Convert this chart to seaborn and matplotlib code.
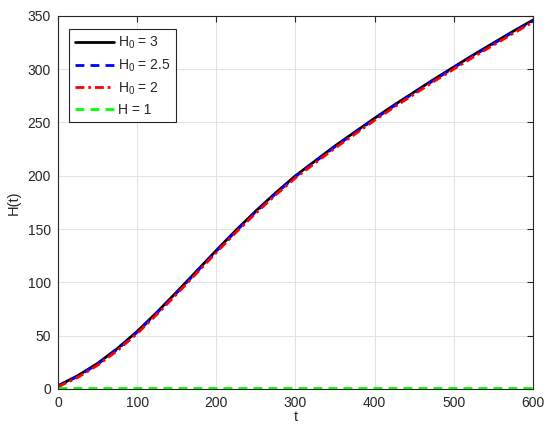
import matplotlib
matplotlib.use("Agg")
import matplotlib.pyplot as plt
import seaborn as sns
import pandas as pd

t = [0, 25, 50, 75, 100, 125, 150, 175, 200, 225, 250, 275, 300,
     325, 350, 375, 400, 425, 450, 475, 500, 525, 550, 575, 600]
h0_3 = [3.0, 12.5, 24, 38, 54, 72, 91, 110.5, 130, 149, 167, 184, 200,
        214, 228, 241, 254, 266.5, 278.5, 290.5, 302, 313.5, 324.5, 335.5, 346]
h0_25 = [2.5, 11.8, 23.2, 37.2, 53.2, 71.2, 90.2, 109.7, 129.2, 148.2, 166.2, 183.2, 199.2,
         213.2, 227.2, 240.2, 253.2, 265.7, 277.7, 289.7, 301.2, 312.7, 323.7, 334.7, 345.2]
h0_2 = [2.0, 10.9, 22.2, 36, 52, 70, 89, 108.5, 128, 147, 165, 182, 198,
        212, 226, 239, 252, 264.5, 276.5, 288.5, 300, 311.5, 322.5, 333.5, 344.2]
h_1 = [1] * 25

labels = [r"H$_0$ = 3", r"H$_0$ = 2.5", r"H$_0$ = 2", "H = 1"]
series = [h0_3, h0_25, h0_2, h_1]
colors = ["#000000", "#0000ff", "#ff0000", "#00ff00"]
dashes = [None, (3.2, 2.2), (3.2, 1.4, 1.0, 1.4), (3.2, 2.2)]

sns.set_style("whitegrid")
plt.rcParams["font.family"] = ["Liberation Sans", "DejaVu Sans"]
plt.rcParams["mathtext.default"] = "regular"

fig = plt.figure(figsize=(5.5, 4.4), dpi=100)
ax = fig.add_axes([0.1055, 0.116, 0.8635, 0.848])

for lab, vals, c, d in zip(labels, series, colors, dashes):
    df = pd.DataFrame({"t": t, "H": vals})
    ln = sns.lineplot(data=df, x="t", y="H", ax=ax, color=c,
                      linewidth=2, label=lab)
    if d is not None:
        ax.lines[-1].set_dashes(d)

ax.set_xlim(0, 600)
ax.set_ylim(0, 350)
ax.set_xticks(range(0, 601, 100))
ax.set_yticks(range(0, 351, 50))
ax.set_xlabel("t", fontsize=10.5, color="#262626", labelpad=0)
ax.set_ylabel("H(t)", fontsize=10.5, color="#262626", labelpad=5)
ax.grid(True, color="#e3e3e3", linewidth=0.8)
for s in ax.spines.values():
    s.set_color("#262626")
    s.set_linewidth(0.8)
    s.set_visible(True)
ax.tick_params(direction="in", length=4, width=0.8, top=True, right=True,
               labelsize=10, colors="#262626", pad=5)

leg = ax.legend(loc="upper left", bbox_to_anchor=(0.015, 0.975), fontsize=10,
                frameon=True, fancybox=False, edgecolor="#262626",
                handlelength=2.8, handletextpad=0.3, borderpad=0.4,
                labelspacing=0.45, borderaxespad=0.3)
leg.get_frame().set_linewidth(0.8)
leg.get_frame().set_alpha(1)

fig.savefig("out.png", dpi=100)
